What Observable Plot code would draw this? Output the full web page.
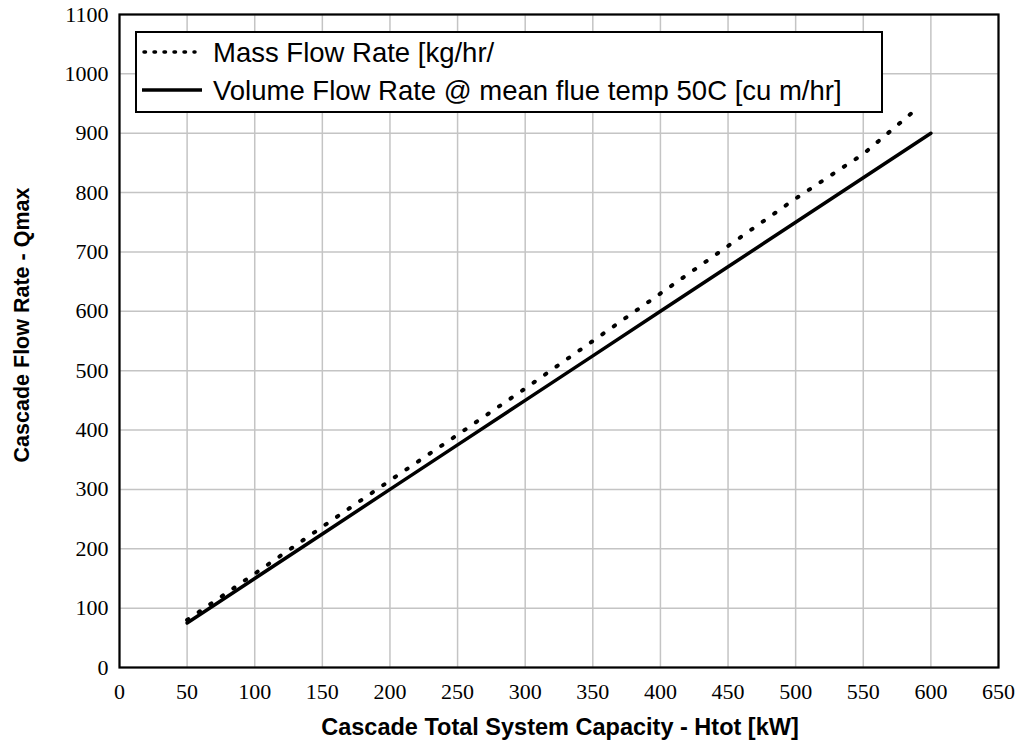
<!DOCTYPE html>
<html><head><meta charset="utf-8">
<script src="https://cdn.jsdelivr.net/npm/d3@7"></script>
<script src="https://cdn.jsdelivr.net/npm/@observablehq/plot@0.6"></script>
<style>
body{margin:0;background:#fff;}
</style>
</head><body>
<div id="chart"></div>
<script>
const capacityKW = [50,100,150,200,250,300,350,400,450,500,550,590];
const massFlow   = [80,158,237,315,392,470,550,630,710,790,865,942];
const volCapacityKW = [50,100,150,200,250,300,350,400,450,500,550,600];
const volumeFlow    = [75,150,225,300,375,450,525,600,675,750,825,900];
const xTicks = d3.range(0,651,50);
const yTicks = d3.range(0,1101,100);
const seriesNames = ["Mass Flow Rate [kg/hr/", "Volume Flow Rate @ mean flue temp 50C [cu m/hr]"];
const xTitle = "Cascade Total System Capacity - Htot [kW]";
const yTitle = "Cascade Flow Rate - Qmax";

const mass = capacityKW.map((x,i)=>({x, y: massFlow[i]}));
const vol = volCapacityKW.map((x,i)=>({x, y: volumeFlow[i]}));

const W = 1027, H = 752;
const mL = 119, mT = 14, mR = 29, mB = 85;
const serif = "Liberation Serif";
const sans = "Liberation Sans";

const plot = Plot.plot({
  width: W, height: H,
  marginLeft: mL, marginTop: mT, marginRight: mR, marginBottom: mB,
  x: {domain: [0,650], label: null},
  y: {domain: [0,1100], label: null},
  marks: [
    Plot.gridX(xTicks, {stroke: "#c4c4c4", strokeOpacity: 1, strokeWidth: 1.5}),
    Plot.gridY(yTicks, {stroke: "#c4c4c4", strokeOpacity: 1, strokeWidth: 1.5}),
    Plot.axisX({ticks: xTicks, tickSize: 0, tickPadding: 16, label: null, tickFormat: d => String(d)}),
    Plot.axisY({ticks: yTicks, tickSize: 0, tickPadding: 11, label: null, tickFormat: d => String(d)}),
    Plot.frame({stroke: "#000", strokeWidth: 2.2}),
    Plot.line(vol, {x: "x", y: "y", stroke: "#000", strokeWidth: 3.5}),
    Plot.line(mass, {x: "x", y: "y", stroke: "#000", strokeWidth: 4, strokeDasharray: "1.5 12.5", strokeLinecap: "round"})
  ]
});
document.getElementById("chart").appendChild(plot);

const svg = d3.select(plot);
svg.selectAll("text").style("font-family", serif).style("font-size", "22px").attr("fill", "#000");

// axis titles
svg.append("text")
  .attr("x", 560).attr("y", 735)
  .attr("text-anchor", "middle")
  .style("font-family", sans)
  .style("font-weight", "bold").style("font-size", "23.5px")
  .text(xTitle);
svg.append("text")
  .attr("transform", `translate(21,325) rotate(-90)`)
  .attr("text-anchor", "middle").attr("dy", "0.36em")
  .style("font-family", sans)
  .style("font-weight", "bold").style("font-size", "21.5px")
  .text(yTitle);

// legend
const lg = svg.append("g");
lg.append("rect").attr("x", 136).attr("y", 32).attr("width", 746).attr("height", 80)
  .attr("fill", "#fff").attr("stroke", "#000").attr("stroke-width", 2);
const rows = [
  {y: 52, dash: "1.5 8.5", name: seriesNames[0]},
  {y: 90, dash: null, name: seriesNames[1]}
];
rows.forEach(r => {
  const l = lg.append("line").attr("x1", 142).attr("x2", 202).attr("y1", r.y).attr("y2", r.y)
    .attr("stroke", "#000").attr("stroke-width", 3.5);
  if (r.dash) l.attr("stroke-dasharray", r.dash).attr("stroke-linecap", "round").attr("x1", 144).attr("x2", 195);
  lg.append("text").attr("x", 213).attr("y", r.y).attr("dy", "0.36em")
    .attr("text-anchor", "start")
    .style("font-family", sans).style("font-size", "27.5px")
    .text(r.name);
});
</script>
</body></html>
